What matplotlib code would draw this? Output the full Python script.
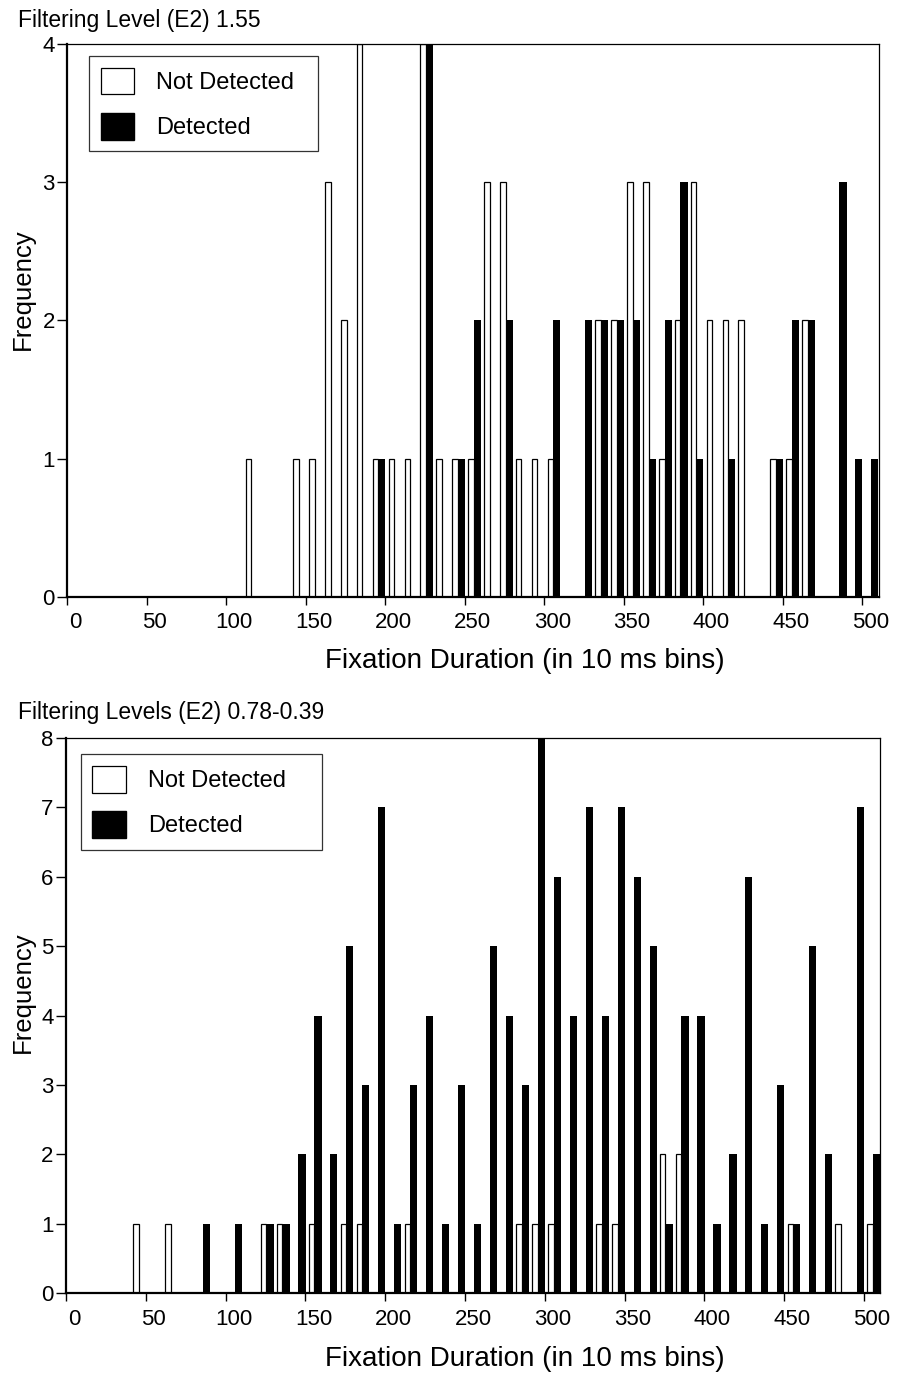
import numpy as np
import matplotlib
matplotlib.use('Agg')
import matplotlib.pyplot as plt
from matplotlib.patches import Patch
from matplotlib.transforms import ScaledTranslation

plt.rcParams['font.family'] = ['Liberation Sans', 'DejaVu Sans']

# --- data: left edge of each 10 ms bin and its count ---
# Filtering level 1.55
top_nd_bins = [110, 140, 150, 160, 170, 180, 190, 200, 210, 220, 230, 240, 250, 260, 270, 280,
               290, 300, 330, 340, 350, 360, 370, 380, 390, 400, 410, 420, 440, 450, 460]
top_nd_freq = [1, 1, 1, 3, 2, 4, 1, 1, 1, 4, 1, 1, 1, 3, 3, 1,
               1, 1, 2, 2, 3, 3, 1, 2, 3, 2, 2, 2, 1, 1, 2]
top_d_bins = [190, 220, 240, 250, 270, 300, 320, 330, 340, 350, 360, 370, 380, 390, 410,
              440, 450, 460, 480, 490, 500]
top_d_freq = [1, 4, 1, 2, 2, 2, 2, 2, 2, 2, 1, 2, 3, 1, 1,
              1, 2, 2, 3, 1, 1]

# Filtering levels 0.78-0.39
bot_nd_bins = [40, 60, 120, 130, 150, 170, 180, 210, 280, 290, 300, 330, 340, 370, 380,
               450, 480, 500]
bot_nd_freq = [1, 1, 1, 1, 1, 1, 1, 1, 1, 1, 1, 1, 1, 2, 2,
               1, 1, 1]
bot_d_bins = [80, 100, 120, 130, 140, 150, 160, 170, 180, 190, 200, 210, 220, 230, 240,
              250, 260, 270, 280, 290, 300, 310, 320, 330, 340, 350, 360, 370, 380, 390,
              400, 410, 420, 430, 440, 450, 460, 470, 490, 500]
bot_d_freq = [1, 1, 1, 1, 2, 4, 2, 5, 3, 7, 1, 3, 4, 1, 3,
              1, 5, 4, 3, 8, 6, 4, 7, 4, 7, 6, 5, 1, 4, 4,
              1, 2, 6, 1, 3, 1, 5, 2, 7, 2]

titles = ['Filtering Level (E2) 1.55', 'Filtering Levels (E2) 0.78-0.39']
xticks = [0, 50, 100, 150, 200, 250, 300, 350, 400, 450, 500]

W, H = 898, 1376
fig = plt.figure(figsize=(W / 100, H / 100), dpi=100)


def px(x0, y0, x1, y1):
    # axes rect from pixel corners (top-left origin)
    return [x0 / W, 1 - y1 / H, (x1 - x0) / W, (y1 - y0) / H]


panels = [
    dict(rect=px(67.3, 43.5, 878.7, 597), xmax=510.3, ymax=4,
         nd=(top_nd_bins, top_nd_freq), d=(top_d_bins, top_d_freq),
         title_y=26.7, xlabel_y=668, ylabel_y=289,
         leg=(0.0267, 0.5, 0.2822, 0.4774)),
    dict(rect=px(66, 737.7, 880, 1293.3), xmax=510.0, ymax=8,
         nd=(bot_nd_bins, bot_nd_freq), d=(bot_d_bins, bot_d_freq),
         title_y=719, xlabel_y=1366, ylabel_y=992,
         leg=(0.018, 0.5, 0.2964, 0.470)),
]

for p, title in zip(panels, titles):
    ax = fig.add_axes(p['rect'])
    nb, nf = p['nd']
    db, df = p['d']
    ax.bar(np.array(nb) + 2.1, nf, width=3.5, align='edge', color='white',
           edgecolor='black', linewidth=0.9, zorder=2)
    ax.bar(np.array(db) + 5.6, df, width=4.5, align='edge', color='black',
           edgecolor='none', zorder=3)

    ax.set_xlim(0, p['xmax'])
    ax.set_ylim(0, p['ymax'])
    ax.set_xticks(xticks)
    ax.set_yticks(range(p['ymax'] + 1))
    ax.tick_params(axis='x', direction='out', length=6, width=1, pad=5, labelsize=16)
    ax.tick_params(axis='y', direction='out', length=7, width=1, pad=2, labelsize=16)
    for lbl in ax.get_xticklabels():
        lbl.set_transform(lbl.get_transform() + ScaledTranslation(0.08, 0, fig.dpi_scale_trans))
    for side in ['left', 'bottom']:
        ax.spines[side].set_linewidth(1.6)
    for side in ['top', 'right']:
        ax.spines[side].set_linewidth(0.9)

    handles = [Patch(facecolor='white', edgecolor='black', linewidth=0.9),
               Patch(facecolor='black', edgecolor='black')]
    leg = ax.legend(handles, ['Not Detected', 'Detected'], loc='upper left',
                    bbox_to_anchor=p['leg'], mode='expand', borderaxespad=0,
                    fontsize=17, handlelength=1.4, handleheight=1.36,
                    handletextpad=0.95, labelspacing=0.78, borderpad=0.5,
                    fancybox=False, frameon=True)
    leg.get_frame().set_edgecolor('black')
    leg.get_frame().set_linewidth(0.9)

    fig.text(18 / W, 1 - p['title_y'] / H, title, fontsize=16.5, ha='left', va='baseline')
    fig.text(524.5 / W, 1 - p['xlabel_y'] / H, 'Fixation Duration (in 10 ms bins)',
             fontsize=20, ha='center', va='baseline')
    fig.text(23 / W, 1 - p['ylabel_y'] / H, 'Frequency', fontsize=18.5,
             rotation=90, ha='center', va='center')

fig.savefig('out.png', dpi=100)
